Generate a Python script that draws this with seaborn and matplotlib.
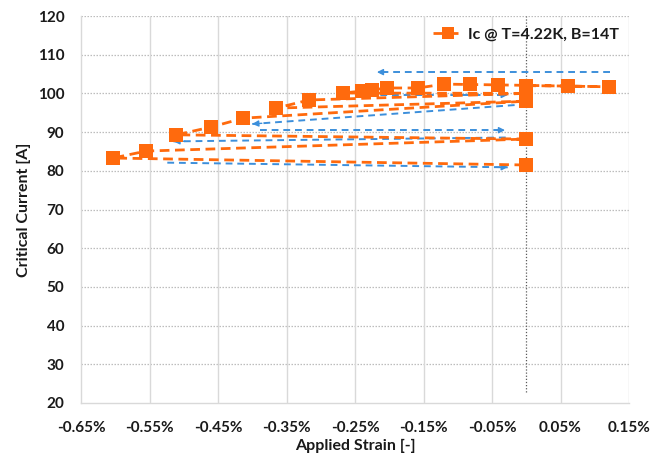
import matplotlib
matplotlib.use("Agg")
import matplotlib.pyplot as plt
import seaborn as sns
import pandas as pd
from matplotlib.ticker import FixedLocator, FuncFormatter

# ---- data (measurement order) ----
strain_pct = [0.0, 0.061, 0.121, -0.041, -0.082, -0.120, -0.158, -0.203, -0.225,
              -0.240, -0.267, 0.0, -0.317, -0.365, 0.0, -0.413, -0.460, -0.511,
              0.0, -0.555, -0.603, 0.0]
current_A = [102.0, 101.9, 101.7, 102.2, 102.3, 102.4, 101.4, 101.4, 100.9,
             100.6, 100.1, 100.0, 98.3, 96.2, 98.0, 93.6, 91.3, 89.3,
             88.2, 85.1, 83.3, 81.5]
series_label = "Ic @ T=4.22K, B=14T"

x_ticks = [-0.65, -0.55, -0.45, -0.35, -0.25, -0.15, -0.05, 0.05, 0.15]
y_ticks = [20, 30, 40, 50, 60, 70, 80, 90, 100, 110, 120]

# direction arrows (start, end) in data units
arrow_starts = [(0.122, 105.5), (0.0, 97.2), (-0.389, 90.5), (-0.03, 88.6),
                (-0.524, 82.1), (-0.247, 99.6)]
arrow_ends = [(-0.218, 105.5), (-0.40, 92.1), (-0.031, 90.5), (-0.515, 87.6),
              (-0.027, 80.9), (-0.027, 99.6)]

orange = "#FF6A0D"
blue = "#3C8FDB"
text_col = "#1A1A1A"

sns.set_theme(style="white")
plt.rcParams["font.family"] = ["Lato", "DejaVu Sans"]
plt.rcParams["font.weight"] = "bold"

fig = plt.figure(figsize=(6.52, 4.59), dpi=100)
ax = fig.add_axes([81 / 652, 1 - 403 / 459, (629 - 81) / 652, (403 - 16) / 459])

df = pd.DataFrame({"strain": strain_pct, "current": current_A, "series": series_label})

# arrows (below the data line)
for (x0, y0), (x1, y1) in zip(arrow_starts, arrow_ends):
    ax.plot([x0, x1], [y0, y1], color=blue, lw=1.4, ls=(0, (3.5, 2.5)), zorder=3)
    xs = x0 + 0.965 * (x1 - x0)
    ys = y0 + 0.965 * (y1 - y0)
    ax.annotate("", xy=(x1, y1), xytext=(xs, ys),
                arrowprops=dict(arrowstyle="-|>", color=blue, lw=1.0,
                                mutation_scale=9, shrinkA=0, shrinkB=0),
                zorder=3)

sns.lineplot(data=df, x="strain", y="current", hue="series", palette=[orange],
             sort=False, estimator=None, marker="s", markersize=10.5,
             markeredgewidth=0, linewidth=2.0, linestyle=(0, (3.5, 2.0)),
             ax=ax, zorder=4)

# zero strain reference line
ax.axvline(0.0, ymin=0.028, ymax=1.0, color="#5A5A5A", lw=0.9, ls=(0, (1, 1.5)), zorder=2)

ax.set_xlim(-0.65, 0.15)
ax.set_ylim(20, 120)
ax.xaxis.set_major_locator(FixedLocator(x_ticks))
ax.yaxis.set_major_locator(FixedLocator(y_ticks))
ax.xaxis.set_major_formatter(FuncFormatter(lambda v, p: f"{v:.2f}%"))

# grid
for yv in y_ticks[1:]:
    ax.axhline(yv, color="#BDBDBD", lw=0.9, ls=(0, (1.2, 1.2)), zorder=1)
for xv in x_ticks[1:]:
    ax.axvline(xv, color="#D9D9D9", lw=1.0, zorder=1)

for side in ["top", "right"]:
    ax.spines[side].set_visible(False)
for side in ["left", "bottom"]:
    ax.spines[side].set_color("#D9D9D9")
    ax.spines[side].set_linewidth(1.0)

ax.tick_params(axis="both", length=0, labelsize=11, labelcolor=text_col)
ax.tick_params(axis="y", pad=12)
ax.tick_params(axis="x", pad=13)
for lab in ax.get_xticklabels() + ax.get_yticklabels():
    lab.set_fontweight("bold")

ax.set_xlabel("Applied Strain [-]", fontsize=11.5, fontweight="bold", color=text_col, labelpad=3)
ax.set_ylabel("Critical Current [A]", fontsize=11.5, fontweight="bold", color=text_col, labelpad=5)

leg = ax.legend(loc="upper right", bbox_to_anchor=(1.0, 0.995), frameon=False,
                handlelength=1.8, handletextpad=0.4, borderaxespad=0.2,
                markerscale=0.85, prop={"size": 11.5, "weight": "bold"})
for t in leg.get_texts():
    t.set_color(text_col)

fig.savefig("out.png", dpi=100, facecolor="white")
